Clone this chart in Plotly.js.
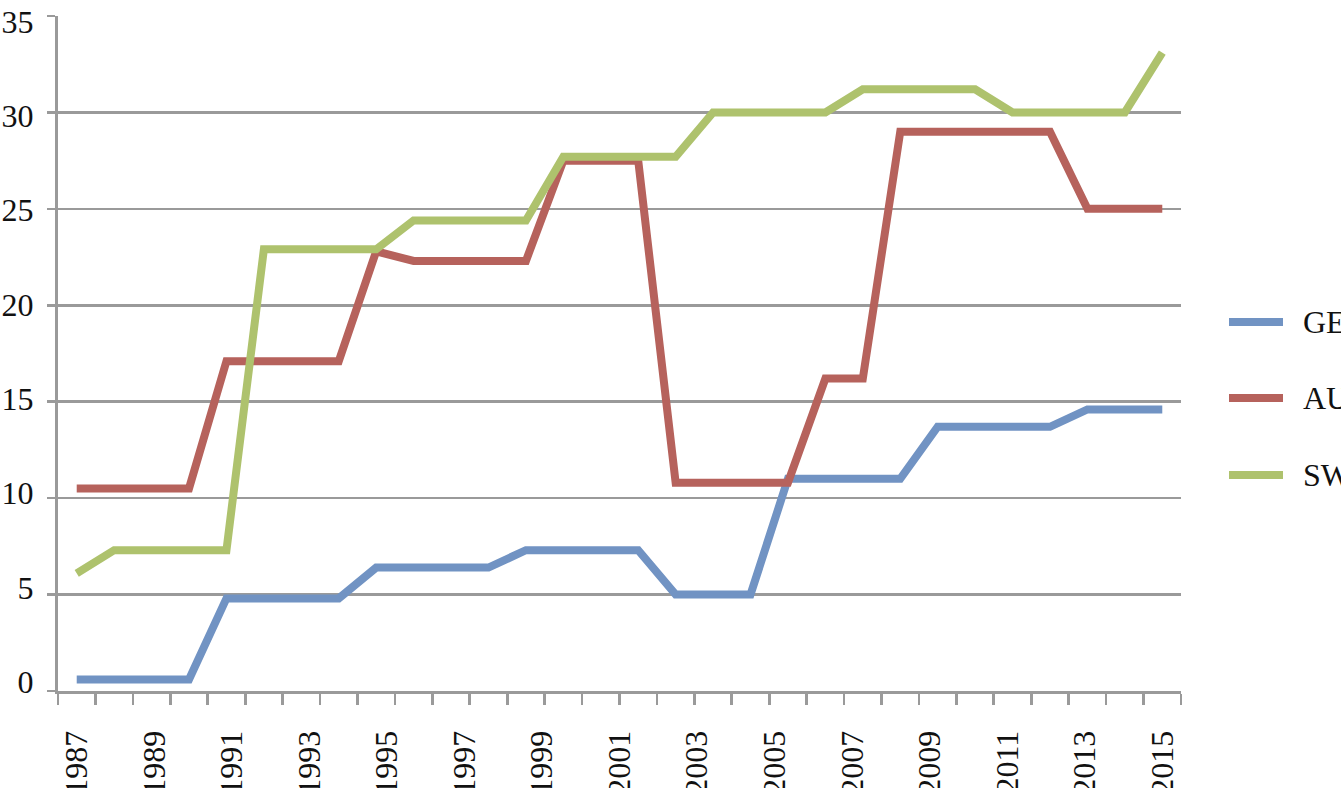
<!DOCTYPE html>
<html>
<head>
<meta charset="utf-8">
<script src="https://cdn.plot.ly/plotly-3.0.1.min.js"></script>
<style>
html,body{margin:0;padding:0;background:#ffffff;overflow:hidden}
#chart{width:1341px;height:788px}
</style>
</head>
<body>
<div id="chart"></div>
<script>
// ---- data ----
const yearLabels = ["1987","1989","1991","1993","1995","1997","1999","2001","2003","2005","2007","2009","2011","2013","2015"];
const seriesNames = ["GER","AUT","SWI"];
const seriesColors = ["#7193c3","#b6625c","#aec26d"];
const geValues = [0.6,0.6,0.6,0.6,4.8,4.8,4.8,4.8,6.4,6.4,6.4,6.4,7.3,7.3,7.3,7.3,5.0,5.0,5.0,11.0,11.0,11.0,11.0,13.7,13.7,13.7,13.7,14.6,14.6,14.6];
const auValues = [10.5,10.5,10.5,10.5,17.1,17.1,17.1,17.1,22.8,22.3,22.3,22.3,22.3,27.5,27.5,27.5,10.8,10.8,10.8,10.8,16.2,16.2,29.0,29.0,29.0,29.0,29.0,25.0,25.0,25.0];
const swValues = [6.1,7.3,7.3,7.3,7.3,22.9,22.9,22.9,22.9,24.4,24.4,24.4,24.4,27.7,27.7,27.7,27.7,30.0,30.0,30.0,30.0,31.2,31.2,31.2,31.2,30.0,30.0,30.0,30.0,33.1];
const yTicks = [0,5,10,15,20,25,30,35];

const allSeries = [geValues, auValues, swValues];
const periods = geValues.map((_, i) => i);
const labelPos = yearLabels.map((_, i) => i * (geValues.length - 1) / (yearLabels.length - 1));

const FONT = "Liberation Serif, Times New Roman, serif";
const GRID = "#9a9a9a";

const traces = allSeries.map((vals, i) => ({
  type: "scatter",
  mode: "lines",
  x: periods,
  y: vals,
  name: seriesNames[i],
  line: {color: seriesColors[i], width: 8},
  showlegend: false,
  hoverinfo: "skip"
}));
// empty helper trace so the label axis (y2) is created
traces.push({type: "scatter", mode: "none", x: [], y: [], yaxis: "y2", showlegend: false, hoverinfo: "skip"});

// manual legend (long line samples like the original)
const W = 1341, ML = 58, MR = 160, MT = 16, MB = 97;
const plotW = W - ML - MR, plotH = 788 - MT - MB;
const px = v => (v - ML) / plotW;
const py = v => (788 - MB - v) / plotH;
const legendRows = [322, 398, 475];
const shapes = seriesNames.map((n, i) => ({
  type: "line", xref: "paper", yref: "paper",
  x0: px(1229), x1: px(1283), y0: py(legendRows[i]), y1: py(legendRows[i]),
  line: {color: seriesColors[i], width: 8}
}));
const annotations = seriesNames.map((n, i) => ({
  xref: "paper", yref: "paper", x: px(1301), y: py(legendRows[i]),
  xanchor: "left", yanchor: "middle", showarrow: false,
  text: n, font: {family: FONT, size: 32, color: "#111"}
}));

const layout = {
  width: W, height: 788,
  margin: {l: ML, r: MR, t: MT, b: MB, pad: 0},
  paper_bgcolor: "#ffffff", plot_bgcolor: "#ffffff",
  showlegend: false,
  xaxis: {
    range: [-0.5, geValues.length - 0.5],
    tickmode: "array", tickvals: labelPos, ticktext: yearLabels,
    tickangle: -90,
    ticks: "outside", ticklen: 10, tickcolor: "rgba(0,0,0,0)",
    ticklabelstandoff: 14,
    tickfont: {family: FONT, size: 32, color: "#111"},
    showgrid: false, zeroline: false,
    showline: true, linecolor: GRID, linewidth: 3,
    minor: {tickmode: "linear", tick0: -0.5, dtick: 1, ticks: "outside", ticklen: 11, tickcolor: GRID, tickwidth: 2.7, showgrid: false},
    fixedrange: true
  },
  yaxis: {
    range: [0, 35],
    tickmode: "array", tickvals: yTicks,
    showticklabels: false,
    ticks: "outside", ticklen: 8, tickcolor: GRID, tickwidth: 2.7,
    showgrid: true, gridcolor: GRID, gridwidth: 2.7,
    zeroline: false,
    showline: true, linecolor: GRID, linewidth: 3,
    fixedrange: true
  },
  yaxis2: {
    overlaying: "y", anchor: "x", side: "left",
    range: [-0.49, 35.29],
    tickmode: "array", tickvals: yTicks, ticktext: yTicks.map(String),
    ticks: "outside", ticklen: 8, tickcolor: "rgba(0,0,0,0)",
    ticklabelstandoff: 9,
    tickfont: {family: FONT, size: 32, color: "#111"},
    showgrid: false, zeroline: false, showline: false,
    fixedrange: true
  },
  shapes: shapes,
  annotations: annotations
};

Plotly.newPlot("chart", traces, layout, {displayModeBar: false, staticPlot: true});
</script>
</body>
</html>
